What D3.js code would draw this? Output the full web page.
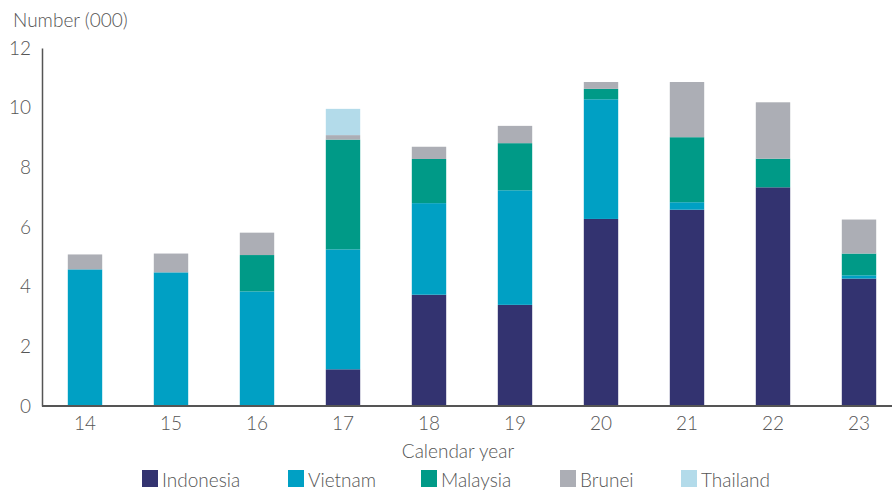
<!DOCTYPE html>
<html>
<head>
<meta charset="utf-8">
<script src="https://cdn.jsdelivr.net/npm/d3@7"></script>
<style>
  body { margin: 0; background: #fff; }
  svg text { font-family: Lato, "Open Sans", sans-serif; font-weight: 300; fill: #555; }
</style>
</head>
<body>
<svg id="chart" width="892" height="490"></svg>
<script>
const years = ['14', '15', '16', '17', '18', '19', '20', '21', '22', '23'];
const countries = ['Indonesia', 'Vietnam', 'Malaysia', 'Brunei', 'Thailand'];
const indonesia = [0, 0, 0, 1.23, 3.73, 3.39, 6.27, 6.58, 7.33, 4.27];
const vietnam   = [4.58, 4.48, 3.84, 4.02, 3.07, 3.84, 4.01, 0.25, 0, 0.11];
const malaysia  = [0, 0, 1.22, 3.68, 1.48, 1.58, 0.35, 2.18, 0.96, 0.73];
const brunei    = [0.5, 0.63, 0.75, 0.15, 0.41, 0.58, 0.23, 1.85, 1.89, 1.14];
const thailand  = [0, 0, 0, 0.88, 0, 0, 0, 0, 0, 0];
const yTicks = [0, 2, 4, 6, 8, 10, 12];
const colors = ['#333370', '#00a0c4', '#009a87', '#acaeb5', '#b3dbea'];

const svg = d3.select('#chart');
const margin = { top: 48, left: 42, bottom: 84 };
const height = 490 - margin.top - margin.bottom;

const rows = years.map((y, i) => ({
    year: y,
    Indonesia: indonesia[i], Vietnam: vietnam[i], Malaysia: malaysia[i],
    Brunei: brunei[i], Thailand: thailand[i]
}));
const stacked = d3.stack().keys(countries)(rows);

const x = d3.scaleBand().domain(years).range([margin.left, margin.left + 860]).paddingInner(0.6).paddingOuter(0.3);
const y = d3.scaleLinear().domain([0, 12]).range([margin.top + height, margin.top]);
const color = d3.scaleOrdinal().domain(countries).range(colors);

// bars
svg.append('g').selectAll('g')
    .data(stacked)
    .enter().append('g')
    .attr('fill', d => color(d.key))
    .selectAll('rect')
    .data(d => d)
    .enter().append('rect')
    .attr('x', d => x(d.data.year))
    .attr('width', x.bandwidth())
    .attr('y', d => y(d[1]))
    .attr('height', d => y(d[0]) - y(d[1]));

// y axis
const yAxis = svg.append('g')
    .attr('transform', `translate(${margin.left},0)`)
    .call(d3.axisLeft(y).tickValues(yTicks).tickSize(0).tickPadding(11));
yAxis.select('.domain').attr('stroke', '#555').attr('stroke-width', 1.5);
yAxis.selectAll('text').style('font-size', '19px');

// x axis
const xAxis = svg.append('g')
    .attr('transform', `translate(0,${y(0)})`)
    .call(d3.axisBottom(x).tickSize(0).tickPadding(11));
xAxis.select('.domain').attr('d', `M${margin.left},0H892`).attr('stroke', '#555').attr('stroke-width', 2);
xAxis.selectAll('text').style('font-size', '19px');

svg.append('text')
    .attr('x', 13).attr('y', 27)
    .style('font-size', '19px')
    .text('Number (000)');

svg.append('text')
    .attr('x', 458).attr('y', 458)
    .attr('text-anchor', 'middle')
    .style('font-size', '19px')
    .text('Calendar year');

// legend
const legendX = [142, 288, 421, 560, 681];
const legend = svg.append('g').selectAll('g')
    .data(countries)
    .enter().append('g')
    .attr('transform', (d, i) => `translate(${legendX[i]},470)`);
legend.append('rect')
    .attr('width', 16).attr('height', 17)
    .attr('fill', d => color(d));
legend.append('text')
    .attr('x', 20).attr('y', 17)
    .style('font-size', '19px')
    .text(d => d);
</script>
</body>
</html>
